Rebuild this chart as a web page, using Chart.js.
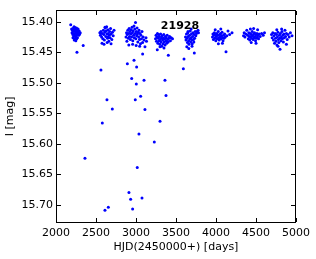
<!DOCTYPE html>
<html>
<head>
<meta charset="utf-8">
<script src="https://cdn.jsdelivr.net/npm/chart.js@4"></script>
<style>
  html, body { margin: 0; padding: 0; background: #fff; }
</style>
</head>
<body>
<canvas id="lc" width="316" height="259"></canvas>
<script>
// tick labels
const hjdTicks = [2000, 2500, 3000, 3500, 4000, 4500, 5000];
const magTicks = [15.40, 15.45, 15.50, 15.55, 15.60, 15.65, 15.70];

// star id written in the plot
const starLabel = '21928';
const starLabelPos = [3550, 15.407];

// observing seasons, [HJD-2450000, I mag]
const season1 = [[2184,15.405],[2195,15.412],[2200,15.418],[2206,15.414],[2210,15.421],[2215,15.416],[2218,15.410],[2222,15.424],[2226,15.413],[2230,15.419],[2233,15.409],[2237,15.422],[2240,15.415],[2243,15.427],[2246,15.412],[2250,15.418],[2253,15.423],[2256,15.410],[2259,15.416],[2262,15.421],[2265,15.414],[2268,15.426],[2272,15.419],[2276,15.412],[2280,15.417],[2285,15.422],[2290,15.415],[2296,15.420],[2303,15.418],[2212,15.426],[2228,15.430],[2248,15.431],[2262,15.450],[2340,15.439],[2225,15.408],[2258,15.428],[2362,15.624]];
const season2 = [[2548,15.418],[2555,15.422],[2562,15.416],[2570,15.425],[2578,15.419],[2585,15.428],[2592,15.414],[2598,15.421],[2605,15.430],[2610,15.417],[2617,15.410],[2622,15.424],[2628,15.415],[2633,15.408],[2638,15.420],[2644,15.427],[2650,15.413],[2655,15.419],[2660,15.432],[2665,15.422],[2670,15.416],[2676,15.426],[2682,15.411],[2690,15.420],[2698,15.429],[2705,15.417],[2715,15.423],[2725,15.414],[2575,15.435],[2600,15.437],[2640,15.434],[2688,15.436],[2612,15.409],[2652,15.425],[2562,15.479],[2637,15.528],[2704,15.543],[2579,15.566],[2612,15.709],[2654,15.704]];
const season3 = [[2875,15.425],[2882,15.418],[2890,15.421],[2897,15.414],[2903,15.427],[2908,15.419],[2914,15.411],[2919,15.424],[2924,15.416],[2930,15.429],[2935,15.420],[2940,15.413],[2945,15.425],[2950,15.409],[2955,15.418],[2960,15.431],[2965,15.415],[2970,15.422],[2975,15.407],[2979,15.426],[2984,15.412],[2989,15.419],[2994,15.401],[2998,15.428],[3003,15.416],[3008,15.423],[3013,15.410],[3018,15.420],[3023,15.433],[3028,15.417],[3033,15.425],[3038,15.414],[3044,15.429],[3050,15.419],[3056,15.436],[3062,15.422],[3068,15.428],[3075,15.416],[3082,15.434],[3090,15.425],[3100,15.430],[3112,15.441],[3125,15.426],[3131,15.432],[2910,15.438],[2958,15.437],[3002,15.439],[2886,15.432],[3046,15.440],[2892,15.469],[2975,15.463],[3008,15.474],[3083,15.453],[2946,15.493],[3004,15.502],[3100,15.496],[2991,15.528],[3058,15.522],[3112,15.544],[3037,15.584],[3016,15.639],[2912,15.680],[2933,15.691],[2958,15.707],[3075,15.689]];
const season4 = [[3244,15.428],[3250,15.422],[3256,15.432],[3262,15.425],[3268,15.419],[3273,15.435],[3278,15.427],[3283,15.421],[3288,15.431],[3293,15.424],[3298,15.437],[3303,15.429],[3308,15.420],[3313,15.433],[3318,15.426],[3323,15.440],[3328,15.423],[3333,15.430],[3338,15.436],[3343,15.427],[3348,15.421],[3353,15.433],[3358,15.428],[3363,15.438],[3368,15.424],[3373,15.431],[3378,15.426],[3384,15.435],[3390,15.422],[3396,15.429],[3402,15.433],[3410,15.427],[3420,15.424],[3430,15.431],[3440,15.426],[3456,15.428],[3266,15.446],[3404,15.455],[3300,15.441],[3350,15.443],[3362,15.496],[3375,15.521],[3300,15.563],[3229,15.597]];
const season5 = [[3619,15.425],[3625,15.430],[3631,15.420],[3637,15.427],[3643,15.434],[3648,15.418],[3653,15.424],[3658,15.431],[3663,15.437],[3668,15.422],[3673,15.428],[3678,15.415],[3683,15.433],[3688,15.426],[3693,15.420],[3698,15.430],[3703,15.436],[3708,15.424],[3713,15.418],[3718,15.429],[3723,15.433],[3728,15.421],[3733,15.427],[3740,15.416],[3748,15.423],[3756,15.419],[3765,15.416],[3775,15.414],[3781,15.418],[3635,15.441],[3660,15.444],[3700,15.440],[3729,15.451],[3650,15.416],[3690,15.412],[3600,15.461],[3592,15.477]];
const season6 = [[3956,15.425],[3962,15.420],[3968,15.429],[3974,15.422],[3980,15.418],[3986,15.427],[3992,15.421],[3998,15.431],[4004,15.424],[4010,15.419],[4016,15.428],[4022,15.422],[4028,15.416],[4034,15.426],[4040,15.430],[4046,15.421],[4052,15.425],[4058,15.419],[4064,15.428],[4070,15.423],[4076,15.417],[4082,15.426],[4088,15.431],[4094,15.422],[4100,15.427],[4108,15.420],[4116,15.425],[4125,15.449],[4135,15.423],[4150,15.415],[4170,15.421],[4200,15.418],[3990,15.413],[4060,15.412],[4030,15.436],[4080,15.435]];
const season7 = [[4344,15.423],[4352,15.418],[4362,15.425],[4372,15.420],[4385,15.414],[4396,15.422],[4404,15.428],[4410,15.418],[4416,15.424],[4422,15.430],[4428,15.419],[4434,15.425],[4440,15.421],[4446,15.427],[4452,15.416],[4458,15.423],[4464,15.429],[4470,15.420],[4476,15.426],[4482,15.418],[4488,15.424],[4494,15.431],[4500,15.421],[4506,15.427],[4512,15.419],[4518,15.425],[4524,15.422],[4532,15.428],[4540,15.420],[4552,15.424],[4570,15.419],[4590,15.422],[4606,15.418],[4430,15.412],[4470,15.411],[4500,15.435],[4440,15.434],[4520,15.413]];
const season8 = [[4694,15.421],[4702,15.426],[4710,15.418],[4718,15.430],[4725,15.423],[4732,15.435],[4738,15.419],[4744,15.427],[4750,15.432],[4756,15.421],[4762,15.438],[4768,15.425],[4774,15.417],[4780,15.429],[4786,15.434],[4792,15.422],[4798,15.427],[4800,15.445],[4805,15.419],[4812,15.431],[4818,15.425],[4824,15.416],[4830,15.428],[4836,15.422],[4842,15.433],[4848,15.420],[4855,15.426],[4862,15.414],[4870,15.424],[4880,15.419],[4890,15.429],[4900,15.421],[4915,15.425],[4930,15.418],[4950,15.423],[4760,15.413],[4820,15.412],[4775,15.440],[4880,15.437]];

const allPoints = [season1, season2, season3, season4, season5, season6, season7, season8]
  .flat()
  .map(([x, y]) => ({ x, y }));

const FONT = 'DejaVu Sans';

// box round the plot, inward ticks on all four sides, star id
const frame = {
  id: 'frame',
  afterDraw(chart) {
    const { ctx, chartArea: a, scales: { x, y } } = chart;
    const L = Math.round(a.left), R = Math.round(a.right) - 1;
    const T = Math.round(a.top), B = Math.round(a.bottom) - 1;
    ctx.save();
    ctx.fillStyle = '#000';
    ctx.fillRect(L, T, R - L + 1, 1);
    ctx.fillRect(L, B, R - L + 1, 1);
    ctx.fillRect(L, T, 1, B - T + 1);
    ctx.fillRect(R, T, 1, B - T + 1);
    hjdTicks.forEach(v => {
      const px = Math.round(x.getPixelForValue(v));
      ctx.fillRect(px, B - 4, 1, 4);
      ctx.fillRect(px, T + 1, 1, 4);
    });
    magTicks.forEach(v => {
      const py = Math.round(y.getPixelForValue(v));
      ctx.fillRect(L + 1, py, 4, 1);
      ctx.fillRect(R - 4, py, 4, 1);
    });

    ctx.font = 'bold 11px "' + FONT + '"';
    ctx.textAlign = 'center';
    ctx.textBaseline = 'middle';
    ctx.fillText(starLabel, x.getPixelForValue(starLabelPos[0]), y.getPixelForValue(starLabelPos[1]));
    ctx.restore();
  }
};

new Chart(document.getElementById('lc'), {
  type: 'scatter',
  data: {
    datasets: [{
      data: allPoints,
      backgroundColor: '#0000ff',
      borderWidth: 0,
      pointRadius: 1.5
    }]
  },
  options: {
    responsive: false,
    animation: false,
    devicePixelRatio: 1,
    layout: { padding: { top: 0, right: 20, left: 0, bottom: 0 } },
    plugins: { legend: { display: false }, tooltip: { enabled: false } },
    scales: {
      x: {
        type: 'linear',
        min: 2000,
        max: 5000,
        grid: { display: false, drawTicks: false },
        border: { display: false },
        afterBuildTicks: s => { s.ticks = hjdTicks.map(v => ({ value: v })); },
        afterFit: s => { s.height = 36; },
        ticks: {
          color: '#000',
          font: { family: FONT, size: 11 },
          padding: 4,
          maxRotation: 0,
          callback: v => String(v)
        },
        title: {
          display: true,
          text: 'HJD(2450000+) [days]',
          color: '#000',
          font: { family: FONT, size: 11 },
          padding: { top: 0, bottom: 5 }
        }
      },
      y: {
        type: 'linear',
        reverse: true,
        min: 15.38,
        max: 15.73,
        grid: { display: false, drawTicks: false },
        border: { display: false },
        afterBuildTicks: s => { s.ticks = magTicks.map(v => ({ value: v })); },
        afterFit: s => { s.width = 56; },
        ticks: {
          color: '#000',
          font: { family: FONT, size: 11 },
          padding: 3,
          callback: v => Number(v).toFixed(2)
        },
        title: {
          display: true,
          text: 'I [mag]',
          color: '#000',
          font: { family: FONT, size: 11 },
          padding: { top: 4, bottom: 0 }
        }
      }
    }
  },
  plugins: [frame]
});
</script>
</body>
</html>
